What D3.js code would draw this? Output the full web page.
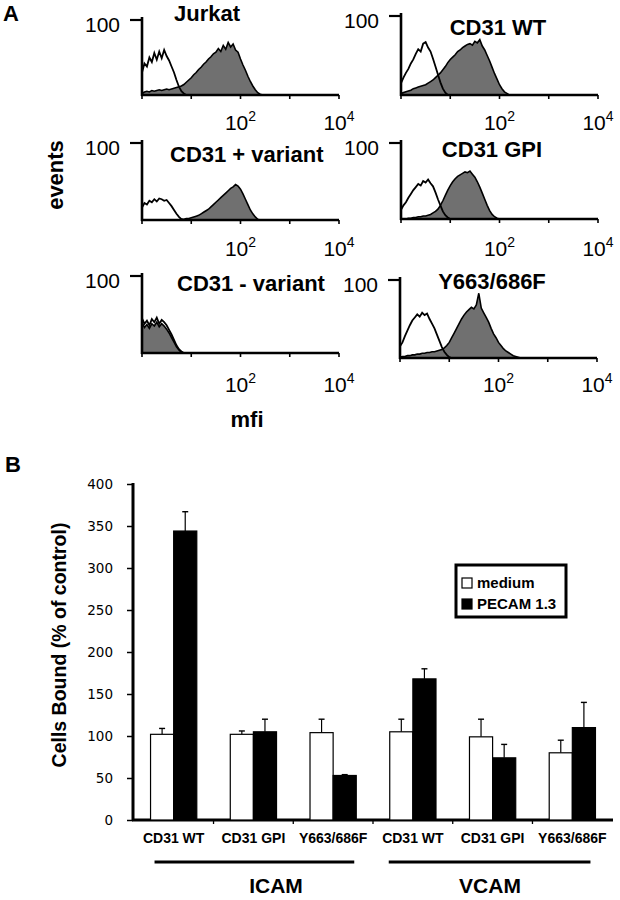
<!DOCTYPE html>
<html><head><meta charset="utf-8">
<script src="https://cdn.jsdelivr.net/npm/d3@7"></script>
<style>body{margin:0;background:#fff}svg{display:block}</style>
</head><body>
<svg id="c" width="620" height="900"></svg>
<script>
// ---------- Panel A data (log10 fluorescence decades, % of max events) ----------
const decades = [0,0.05,0.1,0.15,0.2,0.25,0.3,0.35,0.4,0.45,0.5,0.55,0.6,0.65,0.7,0.75,0.8,0.85,0.9,0.95,1,1.05,1.1,1.15,1.2,1.25,1.3,1.35,1.4,1.45,1.5,1.55,1.6,1.65,1.7,1.75,1.8,1.85,1.9,1.95,2,2.05,2.1,2.15,2.2,2.25,2.3,2.35,2.4,2.45,2.5];
const histTitles = ["Jurkat","CD31 WT","CD31 + variant","CD31 GPI","CD31 - variant","Y663/686F"];
const jurkatOpen   = [30,42,38,50,44,56,47,58,49,60,52,46,38,30,20,11,5,2,0,0,0,0,0,0,0,0,0,0,0,0,0,0,0,0,0,0,0,0,0,0,0,0,0,0,0,0,0,0,0,0,0];
const jurkatFilled = [2,4,5,4,6,5,6,7,6,7,8,7,8,9,10,11,12,14,17,20,23,27,30,34,37,41,44,48,51,55,57,62,58,66,61,70,64,68,60,57,48,40,33,25,18,12,7,3,1,0,0];
const wtOpen       = [15,22,28,33,40,45,52,58,55,65,67,60,55,46,36,26,16,8,3,0,0,0,0,0,0,0,0,0,0,0,0,0,0,0,0,0,0,0,0,0,0,0,0,0,0,0,0,0,0,0,0];
const wtFilled     = [2,3,4,5,6,8,9,10,11,12,13,15,17,19,22,25,28,32,36,41,45,48,51,55,57,60,62,64,65,63,68,66,70,62,57,50,43,35,27,20,13,8,4,2,0,0,0,0,0,0,0];
const plusOpen     = [16,22,20,25,23,27,24,28,27,25,26,22,18,13,8,4,1,0,0,0,0,0,0,0,0,0,0,0,0,0,0,0,0,0,0,0,0,0,0,0,0,0,0,0,0,0,0,0,0,0,0];
const plusFilled   = [0,0,0,0,0,0,0,0,0,0,0,0,0,0,0,0,1,1,2,2,3,4,5,6,8,10,12,14,17,20,23,26,29,32,35,38,41,43,46,44,40,34,27,20,13,8,4,1,0,0,0];
const gpiOpen      = [12,18,22,28,33,38,42,46,44,50,48,52,47,43,35,26,18,10,5,2,0,0,0,0,0,0,0,0,0,0,0,0,0,0,0,0,0,0,0,0,0,0,0,0,0,0,0,0,0,0,0];
const gpiFilled    = [0,0,0,1,1,2,2,3,3,4,4,5,6,8,10,13,18,24,31,38,44,49,53,56,58,60,62,61,63,59,55,49,42,34,26,18,11,6,3,1,0,0,0,0,0,0,0,0,0,0,0];
const minusOpen    = [45,38,42,36,44,40,46,38,43,40,36,30,24,17,10,5,2,0,0,0,0,0,0,0,0,0,0,0,0,0,0,0,0,0,0,0,0,0,0,0,0,0,0,0,0,0,0,0,0,0,0];
const minusFilled  = [40,33,37,32,38,35,40,34,38,35,31,26,20,14,8,4,1,0,0,0,0,0,0,0,0,0,0,0,0,0,0,0,0,0,0,0,0,0,0,0,0,0,0,0,0,0,0,0,0,0,0];
const yfOpen       = [15,20,28,35,42,48,52,56,53,58,55,57,50,44,38,30,22,14,8,4,1,0,0,0,0,0,0,0,0,0,0,0,0,0,0,0,0,0,0,0,0,0,0,0,0,0,0,0,0,0,0];
const yfFilled     = [1,2,2,3,3,4,4,5,5,6,6,7,7,8,8,9,10,11,13,16,20,26,32,38,44,50,55,59,62,65,63,68,83,64,58,52,46,38,31,26,20,16,12,9,7,5,3,2,1,0,0];
const histXTicks = [0,1,2,3,4];

// ---------- Panel B data ----------
const groupLabels = ["CD31 WT","CD31 GPI","Y663/686F","CD31 WT","CD31 GPI","Y663/686F"];
const mediumVals = [102,102,104,105,99,80];
const mediumErr  = [7,4,16,15,21,15];
const pecamVals  = [344,105,53,168,74,110];
const pecamErr   = [23,15,1,12,16,30];
const yTicksB = [0,50,100,150,200,250,300,350,400];
const seriesNames = ["medium","PECAM 1.3"];

const svg = d3.select("#c");
const F = "'Liberation Sans', Arial, Helvetica, sans-serif";

// ---------- Panel A ----------
svg.append("text").attr("x",3).attr("y",21).text("A")
  .attr("font-family",F).attr("font-size",22).attr("font-weight","bold");

const layout = [
  {x0:142, t100:20,  base:95,  tx:207, ty:21,  anchor:"middle", labY:130, open:jurkatOpen, filled:jurkatFilled},
  {x0:401, t100:16,  base:95,  tx:498, ty:35,  anchor:"middle", labY:130, open:wtOpen,     filled:wtFilled},
  {x0:142, t100:143, base:220, tx:170, ty:162, anchor:"start",  labY:256, open:plusOpen,   filled:plusFilled},
  {x0:401, t100:143, base:219, tx:492, ty:157, anchor:"middle", labY:256, open:gpiOpen,    filled:gpiFilled},
  {x0:142, t100:276, base:353, tx:177, ty:291, anchor:"start",  labY:392, open:minusOpen,  filled:minusFilled},
  {x0:400, t100:280, base:358, tx:492, ty:289, anchor:"middle", labY:392, open:yfOpen,     filled:yfFilled}
];

layout.forEach((L,k)=>{
  const g = svg.append("g");
  const x = d3.scaleLinear().domain([0,4]).range([L.x0, L.x0+197]);
  const y = d3.scaleLinear().domain([0,100]).range([L.base, L.t100]);
  const area = d3.area().x((d,i)=>x(decades[i])).y0(L.base).y1(d=>y(d));
  const line = d3.line().x((d,i)=>x(decades[i])).y(d=>y(d));
  g.append("path").attr("d",area(L.filled)).attr("fill","#707070");
  g.append("path").attr("d",line(L.filled)).attr("fill","none").attr("stroke","#000").attr("stroke-width",1.6);
  g.append("path").attr("d",line(L.open)).attr("fill","none").attr("stroke","#000").attr("stroke-width",1.8);
  // axes
  g.append("line").attr("x1",L.x0).attr("x2",L.x0).attr("y1",L.t100-3).attr("y2",L.base+1)
    .attr("stroke","#000").attr("stroke-width",2.6);
  g.append("line").attr("x1",L.x0-1).attr("x2",x(4)).attr("y1",L.base).attr("y2",L.base)
    .attr("stroke","#000").attr("stroke-width",2.6);
  g.append("line").attr("x1",L.x0-12).attr("x2",L.x0).attr("y1",L.t100).attr("y2",L.t100)
    .attr("stroke","#000").attr("stroke-width",2.2);
  g.selectAll(".tk").data(histXTicks).enter().append("line")
    .attr("x1",d=>x(d)).attr("x2",d=>x(d)).attr("y1",L.base).attr("y2",L.base+4)
    .attr("stroke","#000").attr("stroke-width",1.6);
  g.append("text").attr("x",L.x0-22).attr("y",L.t100+12).attr("text-anchor","end")
    .attr("font-family",F).attr("font-size",21).text("100");
  g.append("text").attr("x",L.tx).attr("y",L.ty).attr("text-anchor",L.anchor)
    .attr("font-family",F).attr("font-size",22).attr("font-weight","bold").text(histTitles[k]);
  [2,4].forEach(p=>{
    const t = g.append("text").attr("x",x(p)).attr("y",L.labY).attr("text-anchor","middle")
      .attr("font-family",F).attr("font-size",21);
    t.append("tspan").text("10");
    t.append("tspan").attr("font-size",14).attr("dy",-9).text(String(p));
  });
});

svg.append("text").attr("transform","translate(63,175) rotate(-90)").attr("text-anchor","middle")
  .attr("font-family",F).attr("font-size",22).attr("font-weight","bold").text("events");
svg.append("text").attr("x",247).attr("y",427).attr("text-anchor","middle")
  .attr("font-family",F).attr("font-size",22).attr("font-weight","bold").text("mfi");

// ---------- Panel B ----------
svg.append("text").attr("x",5).attr("y",472).text("B")
  .attr("font-family",F).attr("font-size",22).attr("font-weight","bold");

const yB = d3.scaleLinear().domain([0,400]).range([820,484]);
const xB = d3.scaleBand().domain(d3.range(groupLabels.length)).range([133,613]).paddingInner(0.42).paddingOuter(0.22);
const sub = d3.scaleBand().domain([0,1]).range([0,xB.bandwidth()]);
const gB = svg.append("g");

const yAxis = d3.axisLeft(yB).tickValues(yTicksB).tickSize(6).tickSizeOuter(0).tickPadding(14);
const ya = gB.append("g").attr("transform","translate(133,0)").call(yAxis);
ya.select(".domain").attr("stroke-width",3).attr("d","M0,821V483");
ya.selectAll(".tick line").attr("stroke-width",1.5);
ya.selectAll(".tick text").attr("font-family","'DejaVu Sans', sans-serif").attr("font-size",13.5).attr("fill","#000");

gB.append("line").attr("x1",132).attr("x2",613).attr("y1",820).attr("y2",820)
  .attr("stroke","#000").attr("stroke-width",3);
d3.range(groupLabels.length-1).forEach(i=>{
  const bx = xB(i)+xB.bandwidth()+(xB.step()-xB.bandwidth())/2;
  gB.append("line").attr("x1",bx).attr("x2",bx).attr("y1",820).attr("y2",824)
    .attr("stroke","#000").attr("stroke-width",1.3);
});

const series = [
  {vals:mediumVals, err:mediumErr, fill:"#fff"},
  {vals:pecamVals,  err:pecamErr,  fill:"#000"}
];
series.forEach((s,j)=>{
  s.vals.forEach((v,i)=>{
    const bx = xB(i)+sub(j), bw = sub.bandwidth();
    const cx = bx+bw/2, top = yB(v), et = yB(v+s.err[i]);
    gB.append("line").attr("x1",cx).attr("x2",cx).attr("y1",top).attr("y2",et)
      .attr("stroke","#000").attr("stroke-width",1.2);
    gB.append("line").attr("x1",cx-3).attr("x2",cx+3).attr("y1",et).attr("y2",et)
      .attr("stroke","#000").attr("stroke-width",1.4);
    gB.append("rect").attr("x",bx).attr("y",top).attr("width",bw).attr("height",yB(0)-top)
      .attr("fill",s.fill).attr("stroke","#000").attr("stroke-width",1.2);
  });
});

groupLabels.forEach((lab,i)=>{
  gB.append("text").attr("x",xB(i)+xB.bandwidth()/2).attr("y",843).attr("text-anchor","middle")
    .attr("font-family",F).attr("font-size",14).attr("font-weight","bold").text(lab);
});

// group bars + labels
gB.append("line").attr("x1",xB(0)+4).attr("x2",xB(2)+xB.bandwidth()-2).attr("y1",862).attr("y2",862)
  .attr("stroke","#000").attr("stroke-width",3);
gB.append("line").attr("x1",xB(3)-1).attr("x2",xB(5)+xB.bandwidth()-5).attr("y1",862).attr("y2",862)
  .attr("stroke","#000").attr("stroke-width",3);
gB.append("text").attr("x",276).attr("y",893).attr("text-anchor","middle")
  .attr("font-family",F).attr("font-size",21).attr("font-weight","bold").text("ICAM");
gB.append("text").attr("x",490).attr("y",893).attr("text-anchor","middle")
  .attr("font-family",F).attr("font-size",21).attr("font-weight","bold").text("VCAM");

svg.append("text").attr("transform","translate(66,645) rotate(-90)").attr("text-anchor","middle")
  .attr("font-family",F).attr("font-size",19.5).attr("font-weight","bold").text("Cells Bound (% of control)");

// legend
const lg = svg.append("g");
lg.append("rect").attr("x",456).attr("y",565).attr("width",110).attr("height",52)
  .attr("fill","#fff").attr("stroke","#000").attr("stroke-width",3);
seriesNames.forEach((n,j)=>{
  lg.append("rect").attr("x",462).attr("y",578+j*21).attr("width",10).attr("height",10)
    .attr("fill",series[j].fill).attr("stroke","#000").attr("stroke-width",1.2);
  lg.append("text").attr("x",477).attr("y",588+j*21)
    .attr("font-family",F).attr("font-size",15).attr("font-weight","bold").text(n);
});
</script>
</body></html>
